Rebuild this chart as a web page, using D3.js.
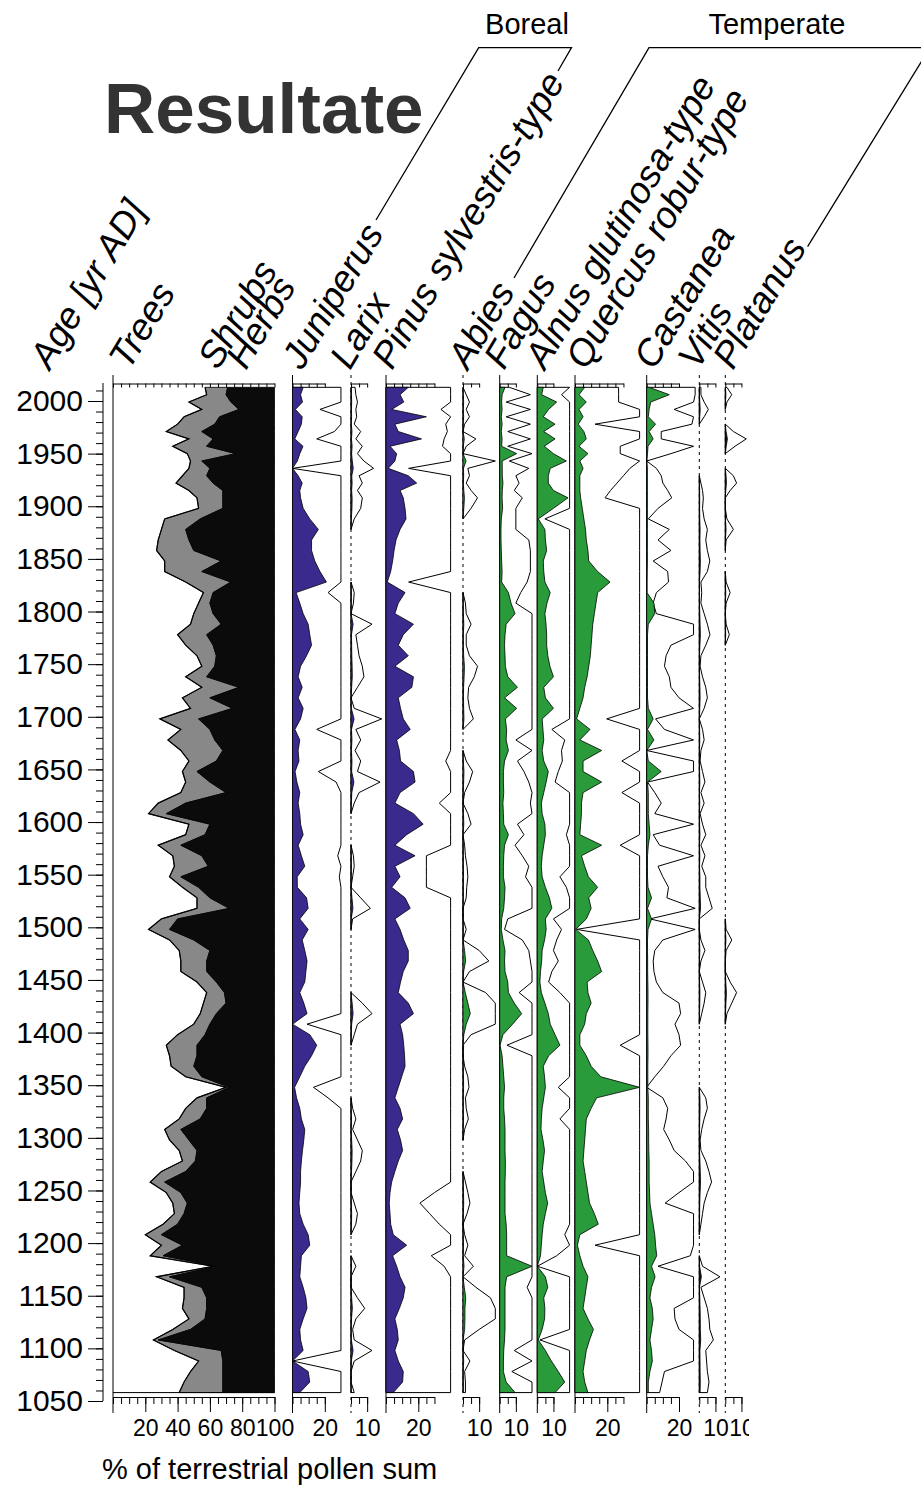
<!DOCTYPE html>
<html><head><meta charset="utf-8">
<script src="https://cdn.jsdelivr.net/npm/d3@7"></script>
<style>
body{margin:0;background:#fff}
svg{display:block}
text{font-family:"Liberation Sans",Arial,Helvetica,sans-serif}
</style>
</head><body>
<svg id="c" width="921" height="1487"></svg>
<script>
// ---------------- DATA ----------------
const ages = [2013,2006,1999,1992,1985,1978,1971,1964,1957,1950,1943,1936,1929,1922,1915,1908,
1898,1888,1878,1868,1858,1848,1838,1828,1818,1808,
1798,1788,1778,1768,1758,1748,1738,1728,1718,1708,
1698,1688,1678,1668,1658,1648,1638,1628,1618,1608,
1598,1588,1578,1568,1558,1548,1538,1528,1518,1508,
1498,1488,1478,1468,1458,1448,1438,1428,1418,1408,
1398,1388,1378,1368,1358,1348,1338,1328,1318,1308,
1298,1288,1278,1268,1258,1248,1238,1228,1218,1208,
1198,1188,1178,1168,1158,1148,1138,1128,1118,1108,
1098,1088,1078,1068,1058];

// cumulative: trees, trees+shrubs (herbs fill to 100)
const trees = [57,58,47,55,44,40,33,47,37,46,48,47,43,39,47,52,
53,32,30,28,27,32,32,45,56,53,
50,48,40,45,52,55,45,55,43,48,
29,42,34,42,47,43,45,42,28,22,
47,45,28,37,38,35,43,52,52,30,
22,35,41,42,42,52,58,56,54,50,
40,33,35,36,45,70,52,45,41,32,
35,41,43,30,23,33,37,38,31,20,
30,23,62,27,44,44,43,47,37,25,
38,53,48,44,41];
const treesShrubs = [71,70,73,78,66,63,55,62,58,76,55,60,58,62,68,68,
68,54,45,47,50,67,55,73,62,60,
62,67,58,62,64,63,58,78,60,74,
53,60,63,68,64,52,60,70,45,33,
60,57,42,55,59,42,53,60,72,40,
35,50,60,58,58,64,69,70,64,60,
57,52,52,50,55,72,58,58,54,42,
47,52,51,45,32,42,46,44,40,30,
43,31,64,35,55,58,58,57,48,28,
67,68,68,68,68];

const juniperus = [6.6,5,6.2,1.8,6,5.5,3.5,1.4,6.5,4.5,3,0,3.5,6,4.5,5,
6.6,10.7,16,11.8,11.8,13.8,17,21,2.2,4.5,
6.6,9.7,10.7,11.8,8.7,5,3.5,6,3.5,6.6,
5,1.5,4.5,3.5,4,1.6,2.7,4.5,3.5,4.5,
5,6.6,3.5,5.5,7.6,2.9,3,8.7,9.7,4.5,
9.7,6,7.6,9,8.3,7.6,4.5,7,9,0,
10.7,15,11.8,7.6,4.5,1.3,2.5,4.5,5.5,7.6,
7,6.2,5.5,5,5,4.5,4,4.5,6.6,9.7,
10.7,5.5,5,4.5,6.6,8.3,9,6.6,4.5,5,
6.6,0,9.7,10.7,4.5];
const juniperusOutline = [30,30,30,17,30,30,26,15,30,30,30,0,30,30,30,30,
30,30,30,30,30,30,30,30,22,30,
30,30,30,30,30,30,30,30,30,30,
30,15,30,30,30,16,27,30,30,30,
30,30,30,28,30,29,30,30,30,30,
30,30,30,30,30,30,30,30,30,9,
30,30,30,30,30,13,22,30,30,30,
30,30,30,30,30,30,30,30,30,30,
30,30,30,30,30,30,30,30,30,30,
30,0,30,30,30];

const larix = [.25,.3,.4,.3,.35,.2,.6,.3,.7,.4,.8,1.4,.5,.7,.4,.7,
.6,.2,0,0,0,0,0,0,.2,.15,
0,1.3,.3,.4,.5,.7,.8,.4,0,.2,
1.9,.3,.6,.25,.6,.4,1.8,.5,.2,0,
0,0,0,.15,.2,.1,0,.6,1.2,.1,
0,0,0,0,0,0,0,.7,1.3,.4,
.2,0,0,0,0,0,0,.1,.3,.1,
.4,.7,.6,.3,0,0,.2,.4,.3,0,
0,0,.3,0,0,.4,.85,.3,.1,.2,
1.3,.2,0,0,.2];
const larixOutline = [2.5,3,4,3,3.5,2,6,3,7,4,8,14,5,7,4,7,
6,2,0,0,0,0,0,0,2,1.5,
0,13,3,4,5,7,8,4,0,2,
19,3,6,2.5,6,4,18,5,2,0,
0,0,0,1.5,2,1,0,6,12,1,
0,0,0,0,0,0,0,7,13,4,
2,0,0,0,0,0,0,1,3,1,
4,7,6,3,0,0,2,4,3,0,
0,0,3,0,0,4,8.5,3,1,2,
13,2,0,0,2];

const pinus = [13.8,8.7,11,3.5,25,5.5,7.6,22,2.5,6.6,5.5,1.4,13.8,19,8.7,10.7,
11.8,12.4,8.7,6.2,5,4.1,2.9,0.8,11.8,7.6,
5.5,17,10.7,7.6,13.8,5.5,17,16,7.6,9,
10.7,15,6.6,8.3,9,17,18,8.7,5.5,17,
23,12.8,5.5,18,5.5,8.7,3.5,11.8,15,5.5,
8.7,11,13.8,13.8,10.7,9,7.6,13.8,17,8.7,
10.3,11,11.5,11.8,9.7,7.6,5.5,8.7,10.3,7,
9,10.3,7.6,5.5,3.5,2.5,2,2.5,2.9,4.5,
12.8,4.1,6.6,8.7,11.8,10.7,8.3,5.5,7,7.6,
5.5,7.6,10.7,10.3,4.5];
const pinusOutline = [40,40,40,34,40,37,38,36,35,40,40,14,40,40,40,40,
40,40,40,40,40,40,40,14,40,40,
40,40,40,40,40,40,40,40,40,40,
40,40,40,40,37,40,40,40,33,40,
40,40,40,25,25,25,25,40,40,40,
40,40,40,40,40,40,40,40,40,40,
40,40,40,40,40,40,40,40,40,40,
40,40,40,40,40,30,21,27,33,40,
40,28,36,40,40,40,40,40,40,40,
40,40,40,40,40];

const abies = [0,.2,.4,.2,.4,.1,0,.8,.2,0,1.9,.3,.4,.2,.5,.9,
.5,0,0,0,0,0,0,0,0,.15,
.2,.5,.2,.2,.4,.9,.7,.35,.3,.4,
.6,0,0,0,.2,.6,.4,.1,0,.3,
.5,0,.1,.15,.25,.3,.23,.2,0,0,
.2,0,1,1.6,.4,0,1.4,3,4.5,2,
.5,0,0,.1,.3,.37,.15,.2,.33,.1,
0,0,0,0,.15,.3,.43,.25,0,.1,
.3,.1,.64,0,.8,1.7,1.2,1.2,1,.1,
0,.43,.1,.15,.15];
const abiesOutline = [0,2,4,2,4,1,0,8,2,0,20,3,4,2,5,9,
5,0,0,0,0,0,0,0,0,1.5,
2,5,2,2,4,9,7,3.5,3,4,
6.4,0,0,0,2,6,4,1,0,3,
5,0,1,1.5,2.5,3,2.3,2,0,0,
2,0,10,16,4,0,14,20,20,20,
5,0,0,1,3,3.7,1.5,2,3.3,1,
0,0,0,0,1.5,3,4.3,2.5,0,1,
3,1,6.4,0,8,17,20,20,10,1,
0,4.3,1,1.5,1.5];

const fagus = [3.3,1.5,1.2,1.5,1,1.5,1,1.5,1.2,10.5,1.5,1.6,1.6,2,1.6,1.5,
1.8,1,0.8,0.8,1,1.2,1.5,1.2,5.4,7,
9.5,4,3.3,3,3.3,3.5,5,11,3,10.5,
3.5,4.3,4,5.4,3,2.3,2.3,2.5,2,2.3,
2.5,5.4,3,2.5,2.3,2.3,3.3,3,2.5,1.2,
1,2,3.3,3,3.3,5,5.4,9,13.6,8,
2,0.2,1.5,2,2.5,3,2.5,2.5,3,3.3,
3.3,3.3,3.5,3.5,3.3,3.3,3.3,3.3,4,4.3,
4.3,4.3,20,4.3,3.3,3.3,3.3,3.3,3.3,3,
2.5,2.3,2.3,4,9.5];
const fagusOutline = [6,19,4,19,4,19,5,19,5,20,6,18,10,12,9,14,
10,10,10,18,19,19,19,17,13,10,
20,20,20,20,20,20,20,20,20,20,
20,20,10,20,11,15,18,20,19,20,
11,15,9.5,14,18,16,20,20,20,5,
3,14,18,19,20,20,12,20,20,20,
20,4.5,20,20,20,20,20,20,20,20,
20,20,20,20,20,20,20,20,20,20,
20,20,20,20,17,20,20,20,20,20,
9,20,7.5,20,20];

const alnus = [3.7,2.7,12,7,3.7,11,4,11,4.3,10,18,8,6.8,6.8,10,19,
10,0.6,4.7,5,5.8,3.7,4,4.7,8,6,
4.7,5.4,5.8,5.8,6.5,7.8,10,4,5,10,
3,3.5,4,3,4,6.8,5.5,4,2.5,3,
4.7,5,4,3,2.5,3,5,7.5,9,5,
5.5,4.5,3,2.7,2,1.6,2.5,4.7,6.8,8,
11,14,7,3.7,4.5,5,4,3,2.5,2.3,
3.5,4.5,3.7,3,4,5,6.4,5,3.7,3,
2.5,2,0,5,6.5,4,4.7,4.5,3,0.6,
5,8.7,13,17,11];
const alnusOutline = [20,15,20,20,20,20,20,20,20,20,20,20,20,20,20,20,
20,4.7,20,20,20,20,20,20,20,20,
20,20,20,20,20,20,20,20,20,20,
20,9,17,15,15.5,13,11,20,20,20,
20,18,20,20,20,14,18,20,20,10,
15,12,10,13,9,7,14,20,20,20,
20,20,20,20,20,13,20,20,14,20,
20,20,20,20,20,20,20,20,20,17,
20,12,0,20,20,20,20,20,20,1.6,
20,20,20,20,20];

const quercus = [6,2.5,7,2.5,5,2,5.5,7,2.5,8,3,5,3,3,3,3.5,
4.5,5.5,6.5,7,8,8.5,14,21.7,14,13,
12,11,10.5,10,9.5,8.5,7.5,6,5,3,
1,9.3,3,16.5,5,5,16.5,5,4,4,
3.5,3,16.5,4,6,8.3,14,8.5,10,7,
0.4,8.3,11,14,16.5,7.5,8,10,7,6,
3,3,7,10,16,40,13.4,10,7,6.5,
6,5.5,5,6,7,8,9,12,14.4,3,
1.5,3,5,8,7,6,5,8,11.4,9,
7,6,5,6,8];
const quercusOutline = [27,27,27,40,40,12.4,40,40,28,28,40,34,30,26,22,18.6,
40,40,40,40,40,40,40,40,40,40,
40,40,40,40,40,40,40,40,40,40,
19.6,40,40,40,29,40,40,29,40,40,
40,40,28,40,40,40,40,40,40,40,
1,40,40,40,40,40,40,40,40,40,
40,28,40,40,40,40,40,40,40,40,
40,40,40,40,40,40,40,40,40,40,
12.4,40,40,40,40,40,40,40,40,40,
40,40,40,40,40];

const castanea = [1.5,14,2.5,1.5,1,5.5,1.5,4,0.8,0.5,0,0.4,0.4,0.4,0.4,0.4,
0.4,0.4,0.4,0.4,0.4,0.4,0.3,0.2,0.2,4.5,
5,1,0.5,0.5,0.5,0.5,0.5,0.5,0.5,1,
4,0.5,4.5,0,1,9,0.5,1,1,1,
1.5,2,1,0.5,0.5,0.5,0.8,3,0.5,3,
0.8,0.5,0.5,0.6,0.6,0.7,0.8,0.8,0.7,0.7,
0.7,0.8,0.8,0.7,0.7,0.7,1,1,1,1.2,
1.2,1.3,1.5,1.5,1.5,1.8,2,3,4,5,
5.5,6.2,3,5.2,3,2,3.5,4,3,2,
3,3.5,2,1,1];
const castaneaOutline = [30,30,29,17,29,28,9,9,29,15,0,6,9,10,13,15.5,
7,1,14,7,15,4,13,13.5,6,4,
6,29,29,15,12,11,14,15,20,29,
5.5,11,29,0,29,29,0.5,5,9,5,
29,4,8,29,7,10,13.5,12.5,30,2,
30,10,5,4,4.5,6,10,20,21,17.5,
20,21,15,10.5,5,0,10,13,12,10.5,
14,17,24,29,29,20,11.4,29,29,29,
29,27,7,29,29,29,17,17.5,20,29,
29,29,11,9.5,8];

const vitis = [.1,.1,.3,.56,.3,0,0,0,0,0,0,0,0,.1,.2,.25,
.2,.3,.5,.4,.5,.65,.5,.1,.15,.1,
.3,.5,.66,.4,.1,.05,.2,.4,.5,.3,
0,.2,.3,.1,.05,.2,.35,.1,.3,.05,
.2,.4,.1,.35,.15,.4,.4,.6,.8,0,
0,.1,.35,.1,0,.2,.4,.3,.15,0,
0,0,0,0,0,0,.4,.5,.3,.15,
.05,.1,.4,.6,.76,.5,.3,.2,.1,0,
0,0,.2,1.28,.1,.3,.5,.6,.65,.87,
.4,.45,.5,.6,.5];
const vitisOutline = [1,1,3,5.6,3,0,0,0,0,0,0,0,0,1,2,2.5,
2,3,5,4,5,6.5,5,1,1.5,1,
3,5,6.6,4,1,0.5,2,4,5,3,
0,2,3,1,0.5,2,3.5,1,3,0.5,
2,4,1,3.5,1.5,4,4,6,8,0,
0,1,3.5,1,0,2,4,3,1.5,0,
0,0,0,0,0,0,4,5,3,1.5,
0.5,1,4,6,7.6,5,3,2,1,0,
0,0,2,12.8,1,3,5,6,6.5,8.7,
4,4.5,5,6,5];

const platanus = [.1,.4,.1,0,0,0,.5,1.3,.6,0,0,0,.5,.7,.3,0,
0,.1,.5,.05,0,0,0,.05,.3,.05,
0,.05,.25,0,0,0,0,0,0,0,
0,0,0,0,0,0,0,0,0,0,
0,0,0,0,0,0,0,0,0,0,
.05,.4,.05,0,0,.3,.7,.4,.1,0,
0,0,0,0,0,0,0,0,0,0,
0,0,0,0,0,0,0,0,0,0,
0,0,0,0,0,0,0,0,0,0,
0,0,0,0,0];
const platanusOutline = [1,4,1,0,0,0,5,13,6,0,0,0,5,7,3,0,
0,1,5,0.5,0,0,0,0.5,3,0.5,
0,0.5,2.5,0,0,0,0,0,0,0,
0,0,0,0,0,0,0,0,0,0,
0,0,0,0,0,0,0,0,0,0,
0.5,4,0.5,0,0,3,7,4,1,0,
0,0,0,0,0,0,0,0,0,0,
0,0,0,0,0,0,0,0,0,0,
0,0,0,0,0,0,0,0,0,0,
0,0,0,0,0];

const ageMajorTicks = [1050,1100,1150,1200,1250,1300,1350,1400,1450,1500,1550,1600,1650,1700,1750,1800,1850,1900,1950,2000];
const treeTickLabels = [20,40,60,80,100];
const groupNames = ["Boreal","Temperate"];

// ---------------- LAYOUT ----------------
const PURPLE = "#3b2a8d", GREEN = "#2a9b3a", GREY = "#888888", BLACK = "#0b0b0b";
const PX = 1.615;              // px per percent, shared by all panels
const RULER_Y = 383.5, BOT_Y = 1397, AX_TOP = 375, AX_BOT = 1413;
const svg = d3.select("#c");
const y = d3.scaleLinear().domain([1050, 2000]).range([1401, 401]);

svg.append("defs").append("clipPath").attr("id","cut").append("rect")
  .attr("x",0).attr("y",0).attr("width",749).attr("height",1487);

function runDefined(arr){
  return (d,i) => arr[i] > 0 || (i > 0 && arr[i-1] > 0) || (i < arr.length-1 && arr[i+1] > 0);
}

function rulers(g, x, tmax, labels, clip){
  const xs = d3.scaleLinear().domain([0, tmax]).range([x(0), x(tmax)]);
  const all = d3.range(0, tmax + 0.001, 5);
  g.append("g").attr("transform", `translate(0,${RULER_Y})`)
    .call(d3.axisBottom(xs).tickValues(all).tickSize(4).tickSizeOuter(0).tickFormat(""))
    .call(a => a.selectAll("line,path").attr("stroke","#000").attr("stroke-width",1));
  g.append("g").attr("transform", `translate(0,${BOT_Y})`)
    .call(d3.axisBottom(xs).tickValues(all).tickSize(7).tickSizeOuter(0).tickFormat(""))
    .call(a => a.selectAll("line,path").attr("stroke","#000").attr("stroke-width",1));
  const lab = g.append("g").attr("transform", `translate(0,${BOT_Y})`)
    .call(d3.axisBottom(xs).tickValues(labels).tickSize(15).tickPadding(8).tickSizeOuter(0).tickFormat(d3.format("d")))
    .call(a => a.select(".domain").remove())
    .call(a => a.selectAll("line").attr("stroke","#000"))
    .call(a => a.selectAll("text").attr("font-size",23).attr("font-family","'Liberation Sans',Arial,sans-serif").attr("fill","#000"));
  if (clip) lab.attr("clip-path","url(#cut)");
}

// ---------- Age axis ----------
const ageG = svg.append("g");
ageG.append("line").attr("x1",103).attr("x2",103).attr("y1",383).attr("y2",1401).attr("stroke","#000");
ageG.append("g").attr("transform","translate(103,0)")
  .call(d3.axisLeft(y).tickValues(d3.range(1050, 2011, 10)).tickSize(7).tickSizeOuter(0).tickFormat(""))
  .call(a => a.select(".domain").remove());
ageG.append("g").attr("transform","translate(103,0)")
  .call(d3.axisLeft(y).tickValues(ageMajorTicks).tickSize(15).tickPadding(5).tickSizeOuter(0).tickFormat(d3.format("d")))
  .call(a => a.select(".domain").remove())
  .call(a => a.selectAll("text").attr("font-size",30).attr("font-family","'Liberation Sans',Arial,sans-serif").attr("fill","#000"));

// ---------- Trees / Shrubs / Herbs ----------
{
  const x = d3.scaleLinear().domain([0,100]).range([113, 113 + 100*PX]);
  const g = svg.append("g");
  g.append("line").attr("x1",x(0)).attr("x2",x(0)).attr("y1",AX_TOP).attr("y2",AX_BOT).attr("stroke","#000");
  const herbs = d3.area().y((d,i)=>y(ages[i])).x0((d,i)=>x(treesShrubs[i])).x1(x(100));
  const shrubs = d3.area().y((d,i)=>y(ages[i])).x0((d,i)=>x(trees[i])).x1((d,i)=>x(treesShrubs[i]));
  const treeLine = d3.line().y((d,i)=>y(ages[i])).x((d,i)=>x(trees[i]));
  g.append("path").datum(ages).attr("d",shrubs).attr("fill",GREY).attr("stroke","#000").attr("stroke-width",0.8);
  g.append("path").datum(ages).attr("d",herbs).attr("fill",BLACK).attr("stroke","#000").attr("stroke-width",0.8);
  g.append("path").datum(ages).attr("d",treeLine).attr("fill","none").attr("stroke","#000").attr("stroke-width",1.2);
  g.append("line").attr("x1",x(0)).attr("x2",x(100)).attr("y1",y(ages[ages.length-1])).attr("y2",y(ages[ages.length-1])).attr("stroke","#000");
  rulers(g, x, 100, treeTickLabels, false);
}

// ---------- Taxa panels ----------
const taxa = [
  {label:"Juniperus", x0:292.5, v:juniperus, ex:juniperusOutline, clip:30, tmax:20, tl:[20], color:PURPLE, dotted:false, lx:302},
  {label:"Larix", x0:351, v:larix, ex:larixOutline, clip:20, tmax:10, tl:[10], color:PURPLE, dotted:true, lx:350},
  {label:"Pinus sylvestris-type", x0:386, v:pinus, ex:pinusOutline, clip:40, tmax:30, tl:[20], color:PURPLE, dotted:false, lx:392},
  {label:"Abies", x0:463, v:abies, ex:abiesOutline, clip:20, tmax:10, tl:[10], color:GREEN, dotted:true, lx:468},
  {label:"Fagus", x0:499.7, v:fagus, ex:fagusOutline, clip:20, tmax:10, tl:[10], color:GREEN, dotted:false, lx:504},
  {label:"Alnus glutinosa-type", x0:537.3, v:alnus, ex:alnusOutline, clip:20, tmax:10, tl:[10], color:GREEN, dotted:false, lx:545},
  {label:"Quercus robur-type", x0:575, v:quercus, ex:quercusOutline, clip:40, tmax:30, tl:[20], color:GREEN, dotted:false, lx:586},
  {label:"Castanea", x0:646.7, v:castanea, ex:castaneaOutline, clip:30, tmax:20, tl:[20], color:GREEN, dotted:false, lx:654},
  {label:"Vitis", x0:699.3, v:vitis, ex:vitisOutline, clip:20, tmax:10, tl:[10], color:"#111", dotted:true, lx:698},
  {label:"Platanus", x0:725.3, v:platanus, ex:platanusOutline, clip:20, tmax:10, tl:[10], color:"#111", dotted:true, lx:733}
];

taxa.forEach((p, k) => {
  const x = d3.scaleLinear().domain([0,100]).range([p.x0, p.x0 + 100*PX]);
  const g = svg.append("g");
  g.append("line").attr("x1",x(0)).attr("x2",x(0)).attr("y1",AX_TOP).attr("y2",AX_BOT)
    .attr("stroke","#000").attr("stroke-width",1).attr("stroke-dasharray", p.dotted ? "3,4" : null);
  const ex = p.ex.map(v => Math.min(v, p.clip));
  const exArea = d3.area().defined(runDefined(ex)).y((d,i)=>y(ages[i])).x0(x(0)).x1((d,i)=>x(ex[i]));
  g.append("path").datum(ex).attr("d",exArea).attr("fill","#fff").attr("stroke","#000").attr("stroke-width",1);
  const fArea = d3.area().defined(runDefined(p.v)).y((d,i)=>y(ages[i])).x0(x(0)).x1((d,i)=>x(p.v[i]));
  g.append("path").datum(p.v).attr("d",fArea).attr("fill",p.color).attr("stroke","#000").attr("stroke-width",0.8);
  rulers(g, x, p.tmax, p.tl, k === taxa.length-1);
});

// ---------- Rotated column labels ----------
const ANG = -59;
const colLabels = [
  {t:"Age [yr AD]", x:50}, {t:"Trees", x:129}, {t:"Shrubs", x:218}, {t:"Herbs", x:246}
].concat(taxa.map(p => ({t:p.label, x:p.lx})));
svg.append("g").selectAll("text").data(colLabels).join("text")
  .attr("transform", d => `translate(${d.x},371) rotate(${ANG})`)
  .attr("font-size",37).attr("font-style","italic").attr("fill","#000")
  .text(d => d.t);

// ---------- Group brackets ----------
const br = svg.append("g").attr("fill","none").attr("stroke","#000").attr("stroke-width",1.3);
br.append("path").attr("d","M376,220 L478.7,47.7 L571.5,47.7 L558,71");
br.append("path").attr("d","M514,278 L649,47.7 L930,47.7 L807.6,246.7");
svg.append("text").attr("x",527).attr("y",34).attr("text-anchor","middle").attr("font-size",29).text(groupNames[0]);
svg.append("text").attr("x",777).attr("y",34).attr("text-anchor","middle").attr("font-size",29).text(groupNames[1]);

// ---------- Titles ----------
svg.append("text").attr("x",104).attr("y",133).attr("font-size",71).attr("font-weight","bold").attr("fill","#333").text("Resultate");
svg.append("text").attr("x",102).attr("y",1479).attr("font-size",29).attr("fill","#000").text("% of terrestrial pollen sum");
</script>
</body></html>
